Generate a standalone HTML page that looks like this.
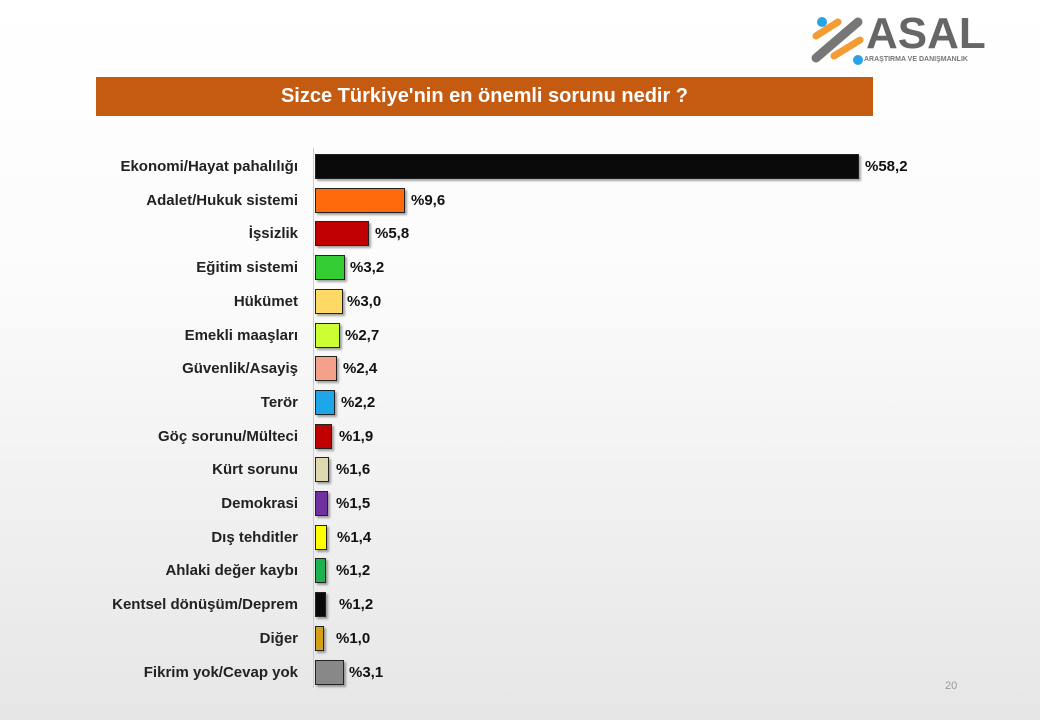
<!DOCTYPE html>
<html><head><meta charset="utf-8"><style>
body{margin:0;width:1040px;height:720px;overflow:hidden;background:linear-gradient(#ffffff 0%,#fbfbfb 40%,#e6e6e6 100%);font-family:"Liberation Sans","DejaVu Sans",sans-serif;position:relative}
.t{position:absolute;left:96px;top:77px;width:777px;height:39px;background:#c55a11;color:#fff;font-weight:bold;font-size:20px;line-height:39px;text-align:center}
.l{position:absolute;right:742px;font-weight:bold;font-size:15px;color:#222;text-align:right;white-space:nowrap}
.b{position:absolute;left:315px;height:25px;border:1.5px solid #222;box-sizing:border-box;box-shadow:2px 2px 2px rgba(0,0,0,.35)}
.v{position:absolute;font-weight:bold;font-size:15px;color:#111}
.ax{position:absolute;left:313px;top:148px;width:1px;height:540px;background:#ccc}
</style></head><body>
<svg style="position:absolute;left:808px;top:14px" width="60" height="52"><line x1="8" y1="44" x2="50" y2="8" stroke="#777" stroke-width="9" stroke-linecap="round"/><line x1="8" y1="22" x2="30" y2="8" stroke="#f29c33" stroke-width="7" stroke-linecap="round"/><line x1="26" y1="42" x2="52" y2="26" stroke="#f29c33" stroke-width="7" stroke-linecap="round"/><circle cx="14" cy="8" r="5" fill="#29a3e8"/><circle cx="50" cy="46" r="5" fill="#29a3e8"/></svg>
<div style="position:absolute;left:866px;top:10px;font-size:44px;font-weight:bold;color:#666;line-height:48px">ASAL</div>
<div style="position:absolute;left:864px;top:56px;font-size:7px;font-weight:bold;color:#777">ARAŞTIRMA VE DANIŞMANLIK</div>
<div class="t">Sizce Türkiye'nin en önemli sorunu nedir ?</div>
<div class="ax"></div>
<div id="c"></div>
<div style="position:absolute;left:945px;top:680px;font-size:11px;color:#999">20</div>
<script>
var d=[["Ekonomi/Hayat pahalılığı","%58,2",859,865,"#0a0a0a"],["Adalet/Hukuk sistemi","%9,6",405,411,"#ff6a0c"],["İşsizlik","%5,8",369,375,"#c00000"],["Eğitim sistemi","%3,2",345,350,"#33cc33"],["Hükümet","%3,0",343,347,"#ffd966"],["Emekli maaşları","%2,7",340,345,"#ccff33"],["Güvenlik/Asayiş","%2,4",337,343,"#f4a08a"],["Terör","%2,2",335,341,"#1ea7e8"],["Göç sorunu/Mülteci","%1,9",332,339,"#c00000"],["Kürt sorunu","%1,6",329,336,"#ddd8b0"],["Demokrasi","%1,5",328,336,"#7030a0"],["Dış tehditler","%1,4",327,337,"#ffff00"],["Ahlaki değer kaybı","%1,2",326,336,"#1fb050"],["Kentsel dönüşüm/Deprem","%1,2",326,339,"#0a0a0a"],["Diğer","%1,0",324,336,"#d4a017"],["Fikrim yok/Cevap yok","%3,1",344,349,"#888888"]];
var h="";d.forEach(function(r,i){var y=166+i*33.7;h+='<div class="l" style="top:'+(y-8)+'px">'+r[0]+'</div><div class="b" style="top:'+(y-12)+'px;width:'+(r[2]-315)+'px;background:'+r[4]+'"></div><div class="v" style="left:'+r[3]+'px;top:'+(y-8)+'px">'+r[1]+'</div>';});
document.getElementById("c").innerHTML=h;
</script>
</body></html>
